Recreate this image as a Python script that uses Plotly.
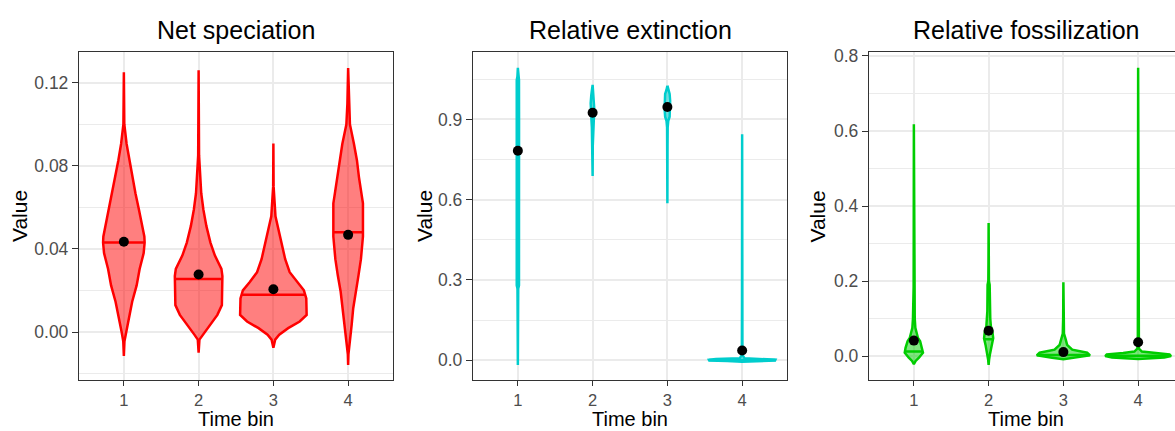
import numpy as np
import plotly.graph_objects as go

# ---------------- data ----------------
bins = [1, 2, 3, 4]
tick_labels = ["1", "2", "3", "4"]
panel_titles = ["Net speciation", "Relative extinction", "Relative fossilization"]

# violin outlines: value levels and half-width of the density (x-axis units)
net_v1_y = [0.125, 0.112, 0.100, 0.0905, 0.0826, 0.0747, 0.0668, 0.0589, 0.0510, 0.046, 0.0431, 0.038, 0.0304, 0.0225, 0.0146, 0.0067, 0.0003, -0.0044, -0.0115]
net_v1_w = [0.0, 0.003, 0.006, 0.037, 0.074, 0.111, 0.155, 0.202, 0.247, 0.274, 0.278, 0.265, 0.211, 0.171, 0.111, 0.068, 0.031, 0.008, 0.0]
net_v2_y = [0.126, 0.100, 0.085, 0.0668, 0.0589, 0.051, 0.0431, 0.0368, 0.0304, 0.027, 0.0194, 0.013, 0.0083, 0.0035, -0.0012, -0.0036, -0.0099]
net_v2_w = [0.0, 0.003, 0.006, 0.035, 0.064, 0.104, 0.158, 0.218, 0.305, 0.318, 0.318, 0.311, 0.251, 0.151, 0.057, 0.011, 0.0]
net_v3_y = [0.0908, 0.070, 0.0557, 0.0494, 0.043, 0.0351, 0.0288, 0.024, 0.0201, 0.0162, 0.0083, 0.0051, 0.0019, -0.0012, -0.0036, -0.0075]
net_v3_w = [0.0, 0.003, 0.028, 0.068, 0.104, 0.158, 0.218, 0.318, 0.408, 0.440, 0.445, 0.352, 0.198, 0.078, 0.024, 0.0]
net_v4_y = [0.1271, 0.110, 0.0999, 0.0905, 0.0826, 0.0747, 0.0652, 0.062, 0.046, 0.0351, 0.0272, 0.0194, 0.0115, 0.0035, -0.0044, -0.0107, -0.0158]
net_v4_w = [0.0, 0.010, 0.024, 0.078, 0.118, 0.144, 0.184, 0.198, 0.198, 0.171, 0.138, 0.100, 0.068, 0.047, 0.024, 0.004, 0.0]
net_median = [0.0431, 0.0256, 0.018, 0.0481]
net_mean = [0.0435, 0.0277, 0.0206, 0.0468]

ext_v1_y = [1.0925, 1.06, 1.047, 0.9, 0.6, 0.28, 0.267, 0.05, -0.0173]
ext_v1_w = [0.0, 0.006, 0.015, 0.016, 0.016, 0.015, 0.005, 0.004, 0.0]
ext_v2_y = [1.0287, 1.01, 0.99, 0.96, 0.93, 0.90, 0.87, 0.845, 0.80, 0.6887]
ext_v2_w = [0.0, 0.005, 0.018, 0.026, 0.024, 0.016, 0.010, 0.006, 0.002, 0.0]
ext_v3_y = [1.026, 1.01, 0.995, 0.97, 0.94, 0.91, 0.895, 0.87, 0.80, 0.5867]
ext_v3_w = [0.0, 0.012, 0.030, 0.037, 0.037, 0.030, 0.012, 0.004, 0.002, 0.0]
ext_v4_y = [0.8446, 0.2, 0.02, 0.008, 0.005, 0.002, -0.001, -0.003, -0.005]
ext_v4_w = [0.0, 0.002, 0.004, 0.030, 0.350, 0.445, 0.440, 0.200, 0.0]
ext_median = [0.80, 0.935, 0.955, 0.0015]
ext_mean = [0.783, 0.9245, 0.9466, 0.0368]

fos_v1_y = [0.6178, 0.3, 0.184, 0.17, 0.127, 0.1, 0.075, 0.06, 0.048, 0.0394, 0.0219, 0.0088, -0.0044, -0.0131, -0.0219]
fos_v1_w = [0.0, 0.002, 0.003, 0.008, 0.008, 0.012, 0.020, 0.040, 0.055, 0.084, 0.111, 0.122, 0.068, 0.024, 0.0]
fos_v2_y = [0.355, 0.25, 0.2, 0.19, 0.12, 0.1, 0.08, 0.0648, 0.0473, 0.0298, 0.0044, -0.01, -0.0237]
fos_v2_w = [0.0, 0.002, 0.004, 0.014, 0.017, 0.022, 0.030, 0.051, 0.061, 0.041, 0.017, 0.006, 0.0]
fos_v3_y = [0.197, 0.1, 0.06, 0.045, 0.03, 0.017, 0.0088, 0.0018, -0.0044, -0.0088]
fos_v3_w = [0.0, 0.003, 0.008, 0.030, 0.050, 0.118, 0.318, 0.356, 0.151, 0.0]
fos_v4_y = [0.7685, 0.3, 0.05, 0.02, 0.012, 0.008, 0.004, 0.0, -0.004, -0.008]
fos_v4_w = [0.0, 0.002, 0.004, 0.010, 0.050, 0.200, 0.420, 0.440, 0.350, 0.0]
fos_median = [0.012, 0.045, 0.003, 0.001]
fos_mean = [0.0412, 0.0675, 0.0105, 0.0368]

panels = [
    dict(ys=[net_v1_y, net_v2_y, net_v3_y, net_v4_y], ws=[net_v1_w, net_v2_w, net_v3_w, net_v4_w],
         med=net_median, mean=net_mean, color="#FF0000", fill="rgba(255,0,0,0.5)",
         yrange=[-0.0229, 0.1346], major=[0.0, 0.04, 0.08, 0.12], ticktext=["0.00", "0.04", "0.08", "0.12"],
         minor=[-0.02, 0.02, 0.06, 0.10]),
    dict(ys=[ext_v1_y, ext_v2_y, ext_v3_y, ext_v4_y], ws=[ext_v1_w, ext_v2_w, ext_v3_w, ext_v4_w],
         med=ext_median, mean=ext_mean, color="#00CDCD", fill="rgba(0,205,205,0.5)",
         yrange=[-0.0726, 1.1505], major=[0.0, 0.3, 0.6, 0.9], ticktext=["0.0", "0.3", "0.6", "0.9"],
         minor=[0.15, 0.45, 0.75, 1.05]),
    dict(ys=[fos_v1_y, fos_v2_y, fos_v3_y, fos_v4_y], ws=[fos_v1_w, fos_v2_w, fos_v3_w, fos_v4_w],
         med=fos_median, mean=fos_mean, color="#00CD00", fill="rgba(0,205,0,0.5)",
         yrange=[-0.0631, 0.8097], major=[0.0, 0.2, 0.4, 0.6, 0.8], ticktext=["0.0", "0.2", "0.4", "0.6", "0.8"],
         minor=[0.1, 0.3, 0.5, 0.7]),
]

# ---------------- layout geometry ----------------
W, H = 1175, 431
FONT = "Liberation Sans, Arial, sans-serif"
px_left = [79, 473, 869]
px_right = [393, 787, 1183]
top_px, bot_px = 47, 379
ydom = [(H - bot_px) / H, (H - top_px) / H]

fig = go.Figure()
annotations = []

for i, p in enumerate(panels):
    xa = "x" if i == 0 else f"x{i+1}"
    ya = "y" if i == 0 else f"y{i+1}"
    for b, ys, ws, med in zip(bins, p["ys"], p["ws"], p["med"]):
        ys = np.array(ys)
        ws = np.array(ws)
        xs = np.concatenate([b + ws, (b - ws)[::-1], [b + ws[0]]])
        yy = np.concatenate([ys, ys[::-1], [ys[0]]])
        fig.add_trace(go.Scatter(x=xs, y=yy, mode="lines", fill="toself",
                                 fillcolor=p["fill"], line=dict(color=p["color"], width=2.5),
                                 xaxis=xa, yaxis=ya, showlegend=False, hoverinfo="skip"))
        hw = float(np.interp(med, ys[::-1], ws[::-1]))
        if hw > 0.01:
            fig.add_trace(go.Scatter(x=[b - hw, b + hw], y=[med, med], mode="lines",
                                     line=dict(color=p["color"], width=2.5),
                                     xaxis=xa, yaxis=ya, showlegend=False, hoverinfo="skip"))
    fig.add_trace(go.Scatter(x=bins, y=p["mean"], mode="markers",
                             marker=dict(color="black", size=10),
                             xaxis=xa, yaxis=ya, showlegend=False, hoverinfo="skip"))

    x0 = px_left[i] / W
    x1 = min(px_right[i], W) / W
    span_px = px_right[i] - px_left[i]
    xr_right = 0.4 + 4.2 * (min(px_right[i], W) - px_left[i]) / span_px
    last = px_right[i] > W
    xkey = "xaxis" if i == 0 else f"xaxis{i+1}"
    ykey = "yaxis" if i == 0 else f"yaxis{i+1}"
    fig.layout[xkey] = dict(domain=[x0, x1], range=[0.4, xr_right], anchor=ya,
                            tickvals=bins, ticktext=tick_labels, showgrid=True,
                            gridcolor="#EBEBEB", gridwidth=1.5, zeroline=False,
                            showline=True, mirror=True, linecolor="#333333", linewidth=1.3,
                            ticks="outside", ticklen=5, tickwidth=1.3, tickcolor="#333333",
                            tickfont=dict(family=FONT, size=16.5, color="#4D4D4D"),
                            fixedrange=True)
    fig.layout[ykey] = dict(domain=ydom, range=p["yrange"], anchor=xa,
                            tickvals=p["major"], ticktext=p["ticktext"], showgrid=True,
                            gridcolor="#EBEBEB", gridwidth=1.5, zeroline=False,
                            showline=True, mirror=(not last), linecolor="#333333", linewidth=1.3,
                            ticks="outside", ticklen=6, tickwidth=1.3, tickcolor="#333333",
                            tickfont=dict(family=FONT, size=17.5, color="#4D4D4D"),
                            minor=dict(tickvals=p["minor"], showgrid=True, gridcolor="#EBEBEB",
                                       gridwidth=1, ticks=""),
                            fixedrange=True)
    cx = (px_left[i] + px_right[i]) / 2
    annotations.append(dict(text=panel_titles[i], x=cx / W, y=1 - 24 / H, xref="paper", yref="paper",
                            xanchor="center", yanchor="middle", showarrow=False,
                            font=dict(family=FONT, size=25, color="black")))
    annotations.append(dict(text="Time bin", x=cx / W, y=1 - 419 / H, xref="paper", yref="paper",
                            xanchor="center", yanchor="middle", showarrow=False,
                            font=dict(family=FONT, size=20, color="black")))
    vx = [19, 424, 817.5][i]
    annotations.append(dict(text="Value", x=vx / W, y=1 - 213 / H, xref="paper", yref="paper",
                            xanchor="center", yanchor="middle", showarrow=False, textangle=-90,
                            font=dict(family=FONT, size=21, color="black")))

fig.update_layout(width=W, height=H, autosize=False, margin=dict(l=0, r=0, t=0, b=0),
                  paper_bgcolor="white", plot_bgcolor="white", annotations=annotations,
                  showlegend=False)

fig.write_html("out.html", config={"displayModeBar": False},
               post_script="document.body.style.margin='0';document.body.style.overflow='hidden';")
